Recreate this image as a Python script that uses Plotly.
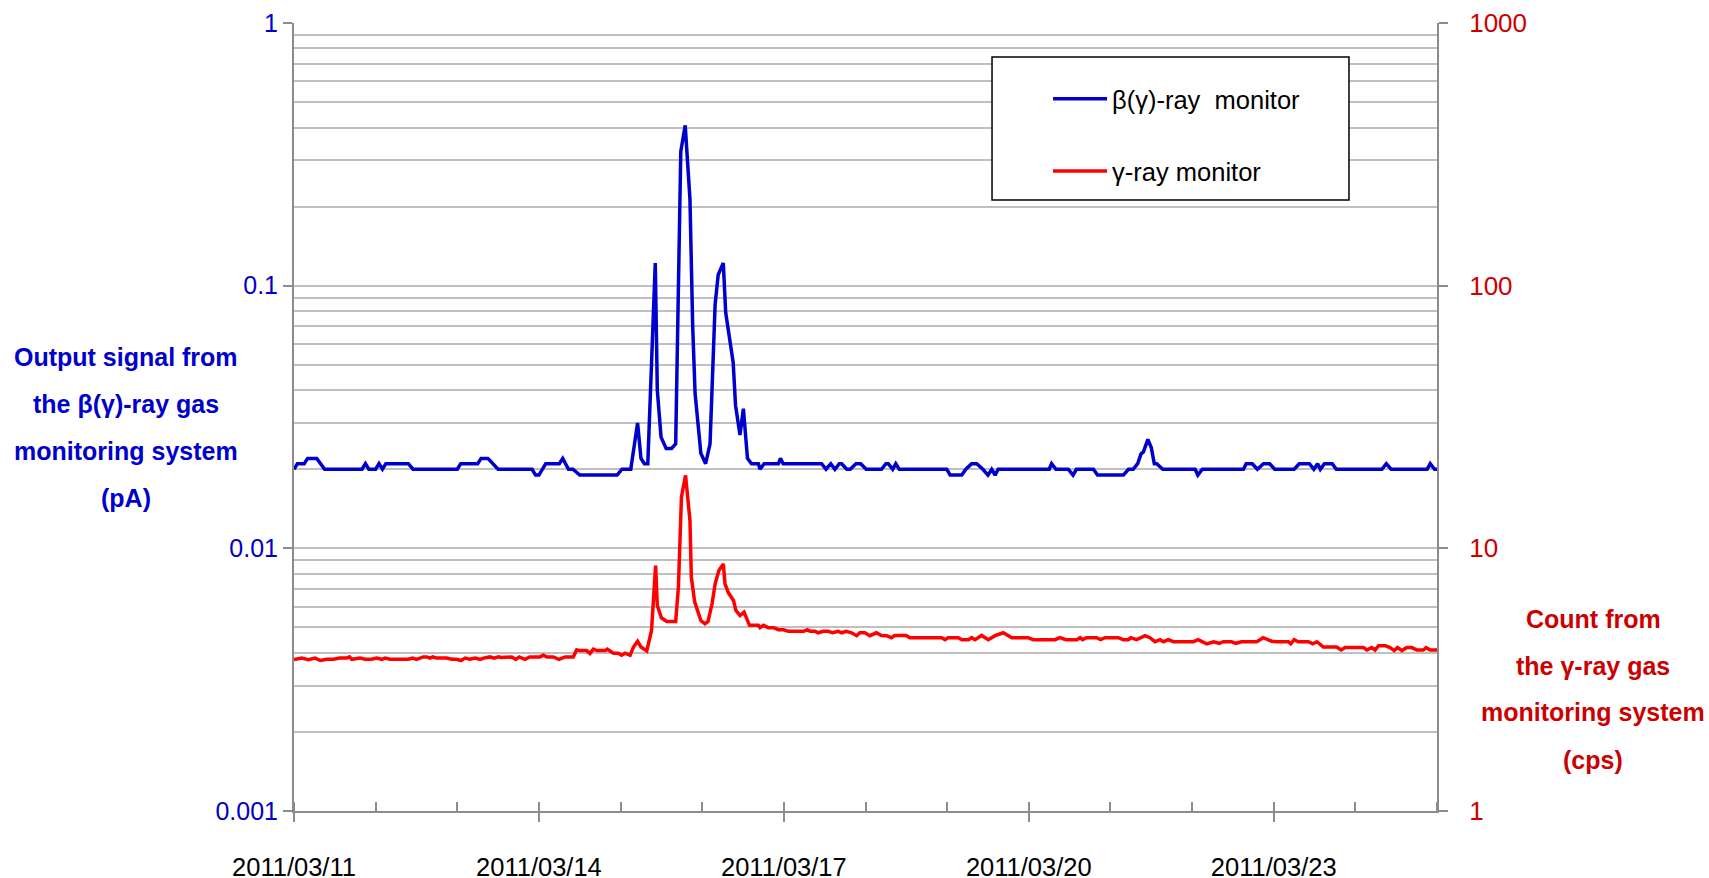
import pandas as pd
import plotly.graph_objects as go

# ---------------- data (hours since 2011-03-11 00:00) ----------------
start = pd.Timestamp("2011-03-11 00:00")

beta_hours = [0, 1, 3, 4, 6.7, 9, 20, 21, 22, 24, 25, 26, 27, 33.6, 35, 48, 49, 54, 55, 57,
              60, 70, 71, 72, 74, 78, 79, 80.7, 82, 84, 95, 96.4, 99, 101, 102, 103, 104,
              104.7, 106.2, 106.8, 107.9, 109.4, 111, 112.2, 113, 113.7, 115, 116.4, 117.2,
              117.9, 119.6, 121, 122.3, 123.8, 124.7, 126.2, 126.9, 129.1, 129.8, 131.1,
              132.1, 133.3, 134.5, 136.5, 137, 138.2, 142.4, 143, 143.8, 155.1, 156.4, 157.8,
              159, 160.3, 161, 162.5, 163.5, 165.2, 166.6, 168.2, 172.7, 174, 174.7, 176,
              176.9, 177.9, 191.9, 192.9, 196.3, 197.5, 199.2, 200.7, 202.5, 204, 205.1,
              206.1, 207, 222, 222.7, 224, 227.6, 229, 230, 235, 236.2, 243.8, 245.3, 246.7,
              248, 249, 249.7, 251, 252, 252.9, 253.6, 255.4, 264.9, 265.7, 267, 279.1, 279.9,
              281.7, 283.2, 285, 286.8, 288.3, 294, 295.5, 298.5, 299.8, 300.9, 301.7, 302.9,
              305.2, 306.4, 319.8, 321.1, 322.5, 333.1, 334, 335.3, 336]
beta_values = [0.020, 0.021, 0.021, 0.022, 0.022, 0.020, 0.020, 0.021, 0.020, 0.020, 0.021,
               0.020, 0.021, 0.021, 0.020, 0.020, 0.021, 0.021, 0.022, 0.022, 0.020, 0.020,
               0.019, 0.019, 0.021, 0.021, 0.022, 0.020, 0.020, 0.019, 0.019, 0.020, 0.020,
               0.030, 0.022, 0.021, 0.021, 0.039, 0.122, 0.040, 0.0265, 0.024, 0.024, 0.025,
               0.0885, 0.324, 0.408, 0.213, 0.070, 0.039, 0.023, 0.021, 0.025, 0.085, 0.110,
               0.122, 0.079, 0.051, 0.035, 0.027, 0.034, 0.022, 0.021, 0.021, 0.020, 0.021,
               0.021, 0.022, 0.021, 0.021, 0.020, 0.021, 0.020, 0.021, 0.021, 0.020, 0.020,
               0.021, 0.021, 0.020, 0.020, 0.021, 0.021, 0.020, 0.021, 0.020, 0.020, 0.019,
               0.019, 0.020, 0.021, 0.021, 0.020, 0.019, 0.020, 0.019, 0.020, 0.020, 0.021,
               0.020, 0.020, 0.019, 0.020, 0.020, 0.019, 0.019, 0.020, 0.020, 0.021, 0.0229,
               0.0233, 0.026, 0.0242, 0.021, 0.021, 0.020, 0.020, 0.019, 0.020, 0.020, 0.021,
               0.021, 0.020, 0.021, 0.021, 0.020, 0.020, 0.021, 0.021, 0.020, 0.021, 0.020,
               0.021, 0.021, 0.020, 0.020, 0.021, 0.020, 0.020, 0.021, 0.020, 0.020]

gamma_hours = [0, 2.3, 4.2, 6.2, 7.8, 9.6, 11.6, 13.5, 15.5, 16.3, 17, 18.4, 19.4, 20.9, 22.8,
               24.3, 25.8, 26.8, 28.2, 33.6, 34.9, 36, 38, 39, 40, 40.8, 41.9, 44.9, 46.4,
               47.8, 49.1, 50.3, 51.7, 53.2, 54.7, 55.7, 57.6, 58.8, 60.1, 61, 62.5, 64, 65.2,
               66.2, 67.9, 69.3, 72.3, 73.3, 74.3, 76.2, 77.9, 79.7, 82.1, 83.1, 84, 86, 87,
               88, 89, 91.5, 92.1, 93.9, 95.3, 96.3, 97.3, 98.8, 99.8, 101, 102, 103.7, 105.1,
               106.3, 106.8, 108, 109.6, 112.2, 113, 113.9, 115.1, 116.4, 116.8, 117.8, 119.6,
               120.8, 121.7, 122.9, 123.8, 124.9, 126.2, 126.7, 127.7, 129.2, 129.9, 131.1,
               132.3, 133.9, 136.5, 137, 138, 139.4, 141, 142.4, 143.9, 145.4, 149.8, 150.9,
               151.7, 153.2, 154.1, 155.6, 157.1, 158.3, 160, 161, 162.3, 163.9, 165.4, 166.3,
               167.8, 169.3, 171.2, 172.7, 174.2, 175.6, 176.6, 180, 181, 190.4, 191.4, 192.3,
               195.3, 196.3, 198.3, 199.2, 200.2, 202.1, 204.1, 206.1, 208.5, 211, 215.8,
               217.3, 223.7, 225.2, 226.9, 230.1, 231.1, 231.8, 233, 235.9, 237.1, 238.4,
               242.3, 243.8, 245.3, 246, 247.7, 250.2, 251.6, 253.1, 254.6, 255.6, 257, 258.5,
               264.4, 265.8, 268.3, 270.3, 272, 273.2, 275.6, 276.9, 278.5, 283, 284.9, 287.4,
               288.9, 292.3, 293, 294, 295.2, 298.2, 299.5, 300.7, 302.6, 306.5, 307.8, 309,
               314.4, 315.4, 316.8, 317.8, 318.8, 320.8, 322.2, 323.4, 324.4, 325.7, 327.1,
               328.6, 330.1, 332, 332.8, 334, 336]
gamma_values = [3.77, 3.82, 3.77, 3.82, 3.74, 3.78, 3.78, 3.82, 3.82, 3.86, 3.78, 3.82, 3.82,
                3.78, 3.78, 3.82, 3.78, 3.82, 3.78, 3.78, 3.82, 3.78, 3.86, 3.86, 3.82, 3.86,
                3.82, 3.82, 3.78, 3.78, 3.74, 3.82, 3.78, 3.82, 3.78, 3.82, 3.86, 3.82, 3.86,
                3.84, 3.86, 3.86, 3.78, 3.86, 3.78, 3.86, 3.86, 3.92, 3.86, 3.86, 3.78, 3.86,
                3.86, 4.11, 4.08, 4.08, 3.98, 4.13, 4.08, 4.08, 4.13, 3.99, 3.99, 3.92, 3.99,
                3.92, 4.21, 4.43, 4.21, 4.07, 4.87, 8.59, 6.06, 5.44, 5.27, 5.27, 7.11, 15.7,
                18.95, 12.76, 7.76, 6.24, 5.31, 5.16, 5.27, 6.15, 7.33, 8.23, 8.72, 7.33, 6.77,
                6.33, 5.80, 5.55, 5.72, 5.09, 5.09, 4.99, 5.09, 4.99, 4.99, 4.90, 4.90, 4.83,
                4.83, 4.90, 4.83, 4.83, 4.77, 4.83, 4.83, 4.77, 4.83, 4.77, 4.83, 4.77, 4.65,
                4.77, 4.77, 4.65, 4.77, 4.66, 4.65, 4.57, 4.66, 4.66, 4.57, 4.57, 4.49, 4.57,
                4.57, 4.49, 4.49, 4.57, 4.49, 4.66, 4.49, 4.65, 4.77, 4.57, 4.57, 4.49, 4.49,
                4.57, 4.49, 4.49, 4.57, 4.49, 4.57, 4.57, 4.49, 4.57, 4.57, 4.49, 4.49, 4.57,
                4.49, 4.65, 4.57, 4.41, 4.49, 4.41, 4.49, 4.41, 4.41, 4.49, 4.33, 4.41, 4.35,
                4.41, 4.41, 4.35, 4.41, 4.41, 4.57, 4.43, 4.41, 4.41, 4.33, 4.49, 4.41, 4.41,
                4.33, 4.41, 4.21, 4.21, 4.10, 4.19, 4.19, 4.10, 4.19, 4.10, 4.26, 4.26, 4.19,
                4.08, 4.19, 4.08, 4.19, 4.19, 4.10, 4.10, 4.19, 4.10, 4.10]

series_names = ["β(γ)-ray \u00a0monitor", "γ-ray monitor"]
left_title_lines = ["Output signal from", "the β(γ)-ray gas", "monitoring system", "(pA)"]
right_title_lines = ["Count from", "the γ-ray gas", "monitoring system", "(cps)"]
x_range = ["2011-03-11", "2011-03-25"]

# ---------------- figure ----------------
FONT = "Arial, Liberation Sans, sans-serif"
BLUE = "#0000CC"
RED = "#FF0000"
DARKRED = "#CC0000"
GRID = "#C0C0C0"
AXIS = "#8C8C8C"

beta_t = start + pd.to_timedelta(beta_hours, unit="h")
gamma_t = start + pd.to_timedelta(gamma_hours, unit="h")

fig = go.Figure()
fig.add_trace(go.Scatter(x=beta_t, y=beta_values, mode="lines", name=series_names[0],
                         line=dict(color=BLUE, width=3.5), yaxis="y", legendgroup="a"))
fig.add_trace(go.Scatter(x=gamma_t, y=gamma_values, mode="lines", name=series_names[1],
                         line=dict(color=RED, width=3.5), yaxis="y2", legendgroup="b"))

fig.update_layout(
    template="none",
    width=1709, height=878,
    margin=dict(l=294, r=272, t=23, b=67, autoexpand=False),
    paper_bgcolor="white", plot_bgcolor="white",
    font=dict(family=FONT, size=24, color="black"),
    showlegend=True,
    legend=dict(x=0.6597, y=0.933, xanchor="left", yanchor="top",
                bgcolor="rgba(0,0,0,0)", borderwidth=0, itemwidth=54,
                font=dict(family=FONT, size=25.5, color="black"),
                traceorder="grouped", tracegroupgap=36),
    xaxis=dict(type="date", range=x_range, tick0="2011-03-11", dtick=3 * 86400000,
               tickformat="%Y/%m/%d", showgrid=False, zeroline=False, automargin=False,
               showline=True, linecolor=AXIS, linewidth=2,
               ticks="outside", ticklen=9, tickwidth=2, tickcolor=AXIS,
               tickfont=dict(family=FONT, size=25.5, color="black"),
               ticklabelstandoff=23,
               minor=dict(dtick=86400000, tick0="2011-03-11", ticks="inside", ticklen=9,
                          tickwidth=2, tickcolor=AXIS, showgrid=False)),
    yaxis=dict(type="log", range=[-3, 0], dtick=1, showgrid=True, gridcolor=GRID, gridwidth=1.5,
               zeroline=False, showline=True, linecolor=AXIS, linewidth=2, automargin=False,
               ticks="outside", ticklen=9, tickwidth=2, tickcolor=AXIS,
               tickvals=[0.001, 0.01, 0.1, 1], ticktext=["0.001", "0.01", "0.1", "1"],
               tickfont=dict(family=FONT, size=25, color=BLUE),
               minor=dict(dtick="D1", showgrid=True, gridcolor=GRID, gridwidth=1.5, ticks="")),
    yaxis2=dict(type="log", range=[0, 3], overlaying="y", side="right", showgrid=False,
                zeroline=False, showline=True, linecolor=AXIS, linewidth=2, automargin=False,
                ticks="outside", ticklen=9, tickwidth=2, tickcolor=AXIS,
                tickvals=[1, 10, 100, 1000], ticktext=["1", "10", "100", "1000"],
                tickfont=dict(family=FONT, size=26, color=DARKRED),
                ticklabelstandoff=16),
)

# legend frame
fig.add_shape(type="rect", xref="paper", yref="paper", x0=0.6107, x1=0.923, y0=0.7754, y1=0.957,
              line=dict(color="black", width=1.5), fillcolor="white", layer="above")

# axis titles, one annotation per line to reproduce the wide line spacing
left_y = [0.576, 0.5165, 0.457, 0.397]
right_y = [0.2437, 0.184, 0.1256, 0.0647]
for txt, yy in zip(left_title_lines, left_y):
    fig.add_annotation(text="<b>" + txt + "</b>", xref="paper", yref="paper", x=-0.147, y=yy,
                       xanchor="center", yanchor="middle", showarrow=False,
                       font=dict(family=FONT, size=25, color=BLUE))
for txt, yy in zip(right_title_lines, right_y):
    fig.add_annotation(text="<b>" + txt + "</b>", xref="paper", yref="paper", x=1.1365, y=yy,
                       xanchor="center", yanchor="middle", showarrow=False,
                       font=dict(family=FONT, size=25, color=DARKRED))

# remove the default page margin so the 1709x878 figure fills the window exactly
fig.write_html("out.html", config={"displayModeBar": False},
               post_script="document.body.style.margin='0';")
